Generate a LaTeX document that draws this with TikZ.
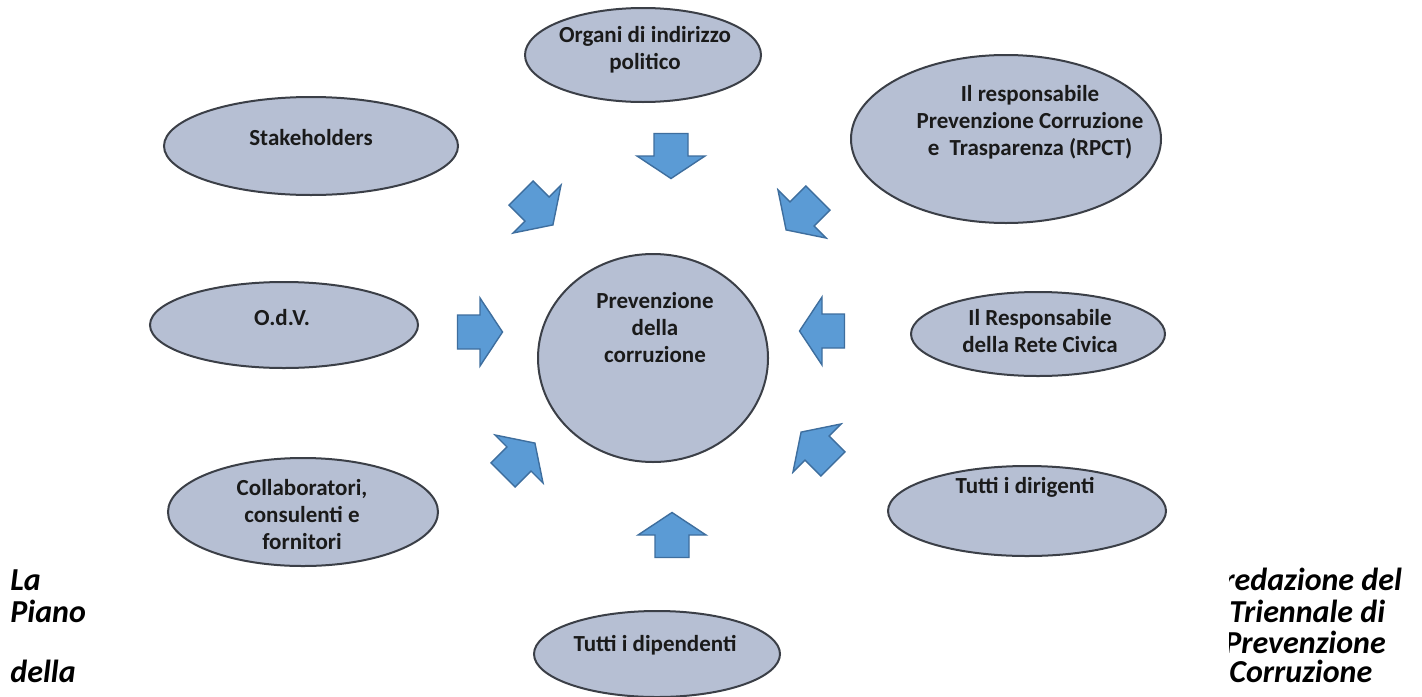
\documentclass[tikz,border=0pt]{standalone}
\usepackage{fontspec}
\setmainfont{Carlito}
\usetikzlibrary{shapes.geometric}
\definecolor{ellfill}{HTML}{B6BFD3}
\definecolor{elldraw}{HTML}{3B3F47}
\definecolor{arrfill}{HTML}{5B9BD5}
\definecolor{arrdraw}{HTML}{3E6E9E}
\definecolor{txt}{HTML}{1A1A1A}
\begin{document}
\begin{tikzpicture}[x=0.5pt,y=-0.5pt,
  bubble/.style={ellipse, draw=elldraw, fill=ellfill, line width=1pt, inner sep=0pt},
  lbl/.style={font=\bfseries\fontsize{11.5}{13.5}\selectfont, align=center, inner sep=0pt, text=txt},
  side/.style={font=\bfseries\itshape\fontsize{16}{16}\selectfont, anchor=base west, inner sep=0pt, text=black},
  blockarrow/.pic={\draw[fill=arrfill, draw=arrdraw, line width=0.7pt, line join=miter]
      (-22.5,-17) -- (0,-17) -- (0,-34) -- (22.5,0) -- (0,34) -- (0,17) -- (-22.5,17) -- cycle;}
]
\useasboundingbox[fill=white] (0,0) rectangle (1422,696);

% ellipses
\node[bubble, minimum width=118pt, minimum height=47pt] (organi) at (643,55) {};
\node[bubble, minimum width=147pt, minimum height=49pt] (stake) at (311,146) {};
\node[bubble, minimum width=155pt, minimum height=84pt] (rpct) at (1006,139) {};
\node[bubble, minimum width=134pt, minimum height=43pt] (odv) at (284,325) {};
\node[bubble, minimum width=115pt, minimum height=104pt] (centro) at (653,358) {};
\node[bubble, minimum width=127pt, minimum height=42pt] (rete) at (1038,334) {};
\node[bubble, minimum width=135pt, minimum height=54pt] (collab) at (303,512) {};
\node[bubble, minimum width=139pt, minimum height=45pt] (dirig) at (1027,511) {};
\node[bubble, minimum width=123pt, minimum height=43pt] (dipend) at (657,654) {};

% labels
\node[lbl] (organi-t) at (645,50) {Organi di indirizzo\\politico};
\node[lbl] (stake-t) at (311,138) {Stakeholders};
\node[lbl] (rpct-t) at (1030,122) {Il responsabile\\Prevenzione Corruzione\\e\ \ Trasparenza (RPCT)};
\node[lbl] (odv-t) at (282,318) {O.d.V.};
\node[lbl] (centro-t) at (655,328) {Prevenzione\\della\\corruzione};
\node[lbl] (rete-t) at (1040,331) {Il Responsabile\\della Rete Civica};
\node[lbl] (collab-t) at (302,515) {Collaboratori,\\consulenti e\\fornitori};
\node[lbl] (dirig-t) at (1025,487) {Tutti i dirigenti};
\node[lbl] (dipend-t) at (655,645) {Tutti i dipendenti};

% block arrows
\pic[rotate=-90] at (671,156) {blockarrow};
\pic[rotate=90] at (672,535) {blockarrow};
\pic[rotate=0] at (480,332) {blockarrow};
\pic[rotate=180] at (822,331) {blockarrow};
\pic[rotate=-45] at (537,209) {blockarrow};
\pic[rotate=-135] at (802,214) {blockarrow};
\pic[rotate=45] at (519,459) {blockarrow};
\pic[rotate=135] at (817,448) {blockarrow};

% surrounding paragraph text
\node[side] (la) at (10,590) {La};
\node[side] (piano) at (10,622) {Piano};
\node[side] (della) at (10,682) {della};
\begin{scope}
\clip (1229,540) rectangle (1422,696);
\node[side] (r1) at (1223,590) {redazione del};
\node[side] (r2) at (1229,622) {Triennale di};
\node[side] (r3) at (1224,653) {Prevenzione};
\node[side] (r4) at (1229,682) {Corruzione};
\end{scope}
\end{tikzpicture}
\end{document}
